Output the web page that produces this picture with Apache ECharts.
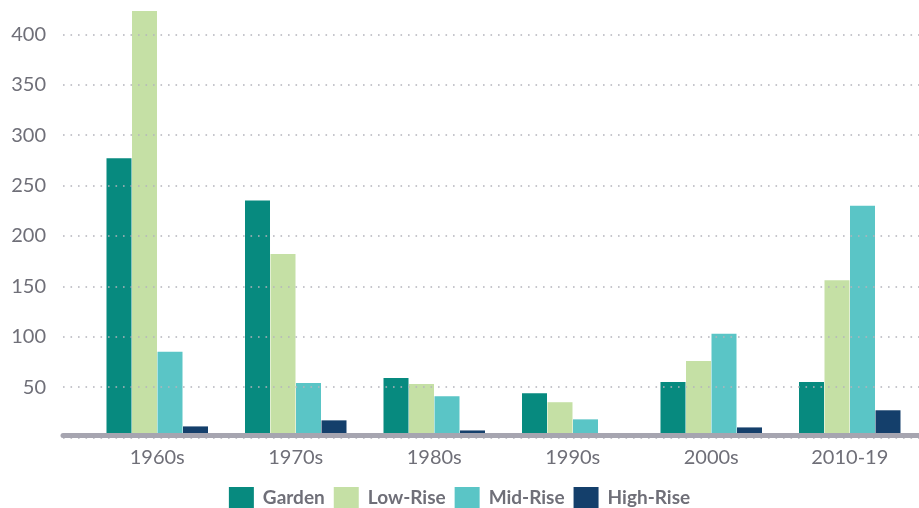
<!DOCTYPE html>
<html>
<head>
<meta charset="utf-8">
<script src="https://cdn.jsdelivr.net/npm/echarts@6/dist/echarts.min.js"></script>
<style>
  html, body { margin: 0; padding: 0; background: #fff; }
  #chart { width: 919px; height: 508px; }
</style>
</head>
<body>
<div id="chart"></div>
<script>
// decades on the x axis
const decades = ['1960s', '1970s', '1980s', '1990s', '2000s', '2010-19'];
// building types (series)
const garden = [277, 235, 59, 44, 55, 55];
const lowRise = [423, 182, 53, 35, 76, 156];
const midRise = [85, 54, 41, 18, 103, 230];
const highRise = [11, 17, 7, 0, 10, 27];
// value axis: ticks every 50, top of plot area just above the tallest bar
const yMin = 0;
const yMax = 434;
const yStep = 50;

const textGray = '#6f6f78';
const fontName = 'Lato, "Noto Sans", sans-serif';

const chart = echarts.init(document.getElementById('chart'));

function bar(name, data, color) {
    return {
        name: name,
        type: 'bar',
        xAxisIndex: 1,
        yAxisIndex: 1,
        barWidth: 25,
        barGap: '2%',
        itemStyle: { color: color },
        data: data
    };
}

const option = {
    animation: false,
    grid: [
        // grid for gridlines, y labels and baseline
        { left: 63, right: 0, top: 0, bottom: 70.5 },
        // grid holding the bars
        { left: 88, width: 837.6, top: 0, bottom: 70.5 }
    ],
    xAxis: [{
        gridIndex: 0,
        type: 'category',
        data: decades,
        z: 10,
        offset: -2,
        axisLine: { lineStyle: { color: '#a6a5b0', width: 5 } },
        axisTick: { show: false },
        axisLabel: { show: false }
    }, {
        gridIndex: 1,
        type: 'category',
        data: decades,
        axisLine: { show: false },
        axisTick: { show: false },
        axisLabel: {
            margin: 10,
            fontSize: 20,
            fontFamily: fontName,
            color: textGray
        }
    }],
    yAxis: [{
        gridIndex: 0,
        type: 'value',
        min: yMin,
        max: yMax,
        interval: yStep,
        z: 10,
        axisLine: { show: false },
        axisTick: { show: false },
        axisLabel: {
            margin: 17,
            fontSize: 20,
            fontFamily: fontName,
            color: textGray,
            showMaxLabel: false,
            formatter: function (v) {
                return (v === 0 || v % yStep !== 0) ? '' : String(v);
            }
        },
        splitLine: {
            showMaxLine: false,
            lineStyle: { color: '#b4b4bc', width: 1.6, type: [1.6, 5.9] }
        }
    }, {
        gridIndex: 1,
        type: 'value',
        min: yMin,
        max: yMax,
        interval: yStep,
        show: false,
        splitLine: { show: false }
    }],
    legend: {
        bottom: -1,
        left: 'center',
        padding: 0,
        icon: 'rect',
        itemWidth: 25,
        itemHeight: 22,
        itemGap: 9,
        textStyle: {
            fontSize: 19,
            fontWeight: 'bold',
            fontFamily: fontName,
            color: textGray,
            padding: [0, 0, 0, 4]
        }
    },
    series: [
        bar('Garden', garden, '#078a7f'),
        bar('Low-Rise', lowRise, '#c5e0a5'),
        bar('Mid-Rise', midRise, '#5ac5c6'),
        bar('High-Rise', highRise, '#143f6b')
    ]
};

chart.setOption(option);
</script>
</body>
</html>
